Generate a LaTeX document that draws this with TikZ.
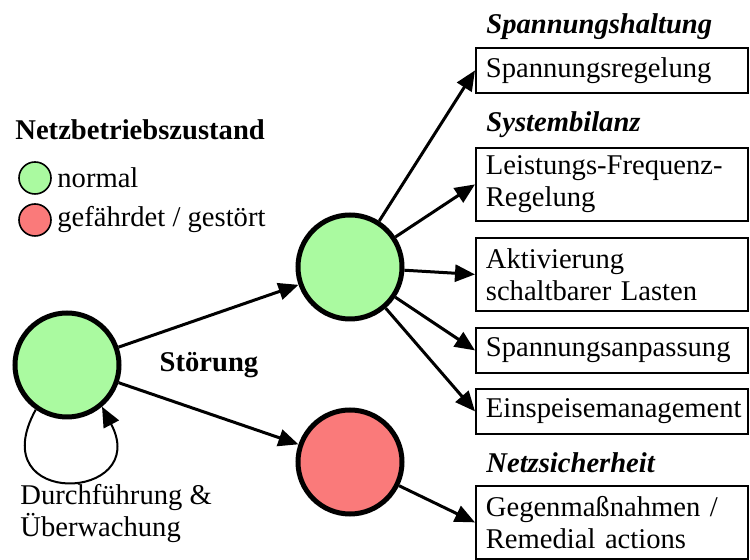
\documentclass[tikz,border=0pt]{standalone}
\usepackage{fontspec}
\setmainfont{Liberation Serif}
\usetikzlibrary{arrows.meta}
\definecolor{normalgreen}{RGB}{170,250,160}
\definecolor{stoerred}{RGB}{250,122,122}

\tikzset{
  zustand/.style={circle,draw,line width=2.5pt,minimum size=52pt,inner sep=0pt},
  legende/.style={circle,draw,line width=0.8pt,minimum size=16pt,inner sep=0pt},
  massnahme/.style={draw,line width=0.9pt,anchor=north west,text width=126pt,
    inner xsep=5pt,inner ysep=0pt,align=left},
  pfeil/.style={line width=1.5pt,-{Triangle[length=10pt,width=8.5pt]}},
  bereich/.style={anchor=west,inner sep=0pt,font=\bfseries\itshape}
}

\begin{document}
\fontsize{14.3}{16}\selectfont
\begin{tikzpicture}[x=0.5pt,y=0.5pt]
\useasboundingbox (0,0) rectangle (750,-560);

% Legende
\node[anchor=west,inner sep=0pt,font=\bfseries] (legtitel) at (15,-130) {Netzbetriebszustand};
\node[legende,fill=normalgreen] (legnormal) at (35,-178) {};
\node[anchor=west,inner sep=0pt] at (57,-178) {normal};
\node[legende,fill=stoerred] (leggestoert) at (35,-220) {};
\node[anchor=west,inner sep=0pt] at (57,-220) {gefährdet / gestört};

% Zustaende
\node[zustand,fill=normalgreen] (start) at (67,-365) {};
\node[zustand,fill=normalgreen] (normal) at (350,-267) {};
\node[zustand,fill=stoerred] (gestoert) at (350,-462) {};

\node[font=\bfseries,inner sep=0pt] (stoerung) at (209,-365) {Störung};
\node[anchor=north west,align=left,inner sep=0pt] (ueberw) at (20,-484)
  {Durchführung \&\\Überwachung};

% Massnahmen
\node[bereich] (haltung) at (486,-27) {Spannungshaltung};
\node[massnahme,minimum height=22.5pt] (regelung) at (475,-47) {Spannungsregelung};
\node[bereich] (bilanz) at (486,-125) {Systembilanz};
\node[massnahme,minimum height=36.5pt] (lfr) at (475,-147) {Leistungs-Frequenz-\\Regelung};
\node[massnahme,minimum height=36.5pt] (lasten) at (475,-237) {Aktivierung\\schaltbarer Lasten};
\node[massnahme,minimum height=22.5pt] (anpassung) at (475,-327) {Spannungsanpassung};
\node[massnahme,minimum height=22.5pt] (einspeis) at (475,-388) {Einspeisemanagement};
\node[bereich] (sicherheit) at (486,-463) {Netzsicherheit};
\node[massnahme,minimum height=36.5pt] (gegen) at (475,-485) {Gegenmaßnahmen /\\Remedial actions};

% Pfeile
\draw[pfeil] (start) -- (normal);
\draw[pfeil] (start) -- (gestoert);
\draw[pfeil,line width=1pt] (start.-125) .. controls +(-55,-100) and +(50,-95) .. (start.-50);
\draw[pfeil] (normal) -- (regelung.west);
\draw[pfeil] (normal) -- (lfr.west);
\draw[pfeil] (normal) -- (lasten.west);
\draw[pfeil] (normal) -- (anpassung.west);
\draw[pfeil] (normal) -- (einspeis.west);
\draw[pfeil] (gestoert) -- (gegen.west);
\end{tikzpicture}
\end{document}
